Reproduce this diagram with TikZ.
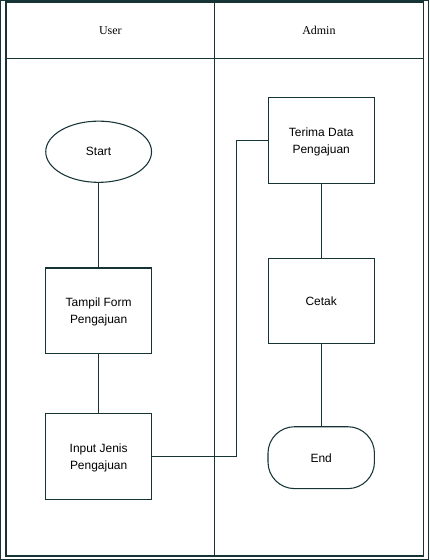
\documentclass[tikz,border=0pt]{standalone}
\usepackage{fontspec}
\setmainfont{Liberation Serif}
\newfontfamily\arialf{Liberation Sans}
\usetikzlibrary{shapes.geometric}
\definecolor{ln}{RGB}{22,52,54}
\begin{document}
\begin{tikzpicture}[x=0.75pt,y=-0.75pt,
  every path/.style={draw=ln,line width=0.8pt},
  txt/.style={align=center,font=\arialf\fontsize{9}{12.75}\selectfont,text depth=-1.2pt},
  proc/.style={txt,draw=ln,line width=0.8pt,rectangle,minimum width=79.5pt,minimum height=64.5pt,inner sep=0pt},
  term/.style={txt,draw=ln,line width=0.8pt,ellipse,minimum width=79.5pt,minimum height=46pt,inner sep=0pt},
  endt/.style={txt,draw=ln,line width=0.8pt,rectangle,rounded corners=20pt,minimum width=80pt,minimum height=46.5pt,inner sep=0pt},
  lanehead/.style={font=\fontsize{9}{11}\selectfont}]
\useasboundingbox (0,0) rectangle (429,560);
% swimlanes
\draw (5.5,1.5) rectangle (423.5,556.5);
\draw (5.5,58) -- (423.5,58);
\draw (214.5,1.5) -- (214.5,556.5);
\node[lanehead] (hu) at (110,30) {User};
\node[lanehead] (ha) at (319,30) {Admin};
% nodes
\node[term] (start) at (98.3,151.5) {Start};
\node[proc] (tampil) at (98.3,311) {Tampil Form\\Pengajuan};
\node[proc] (input) at (98.3,457) {Input Jenis\\Pengajuan};
\node[proc] (terima) at (321.3,140) {Terima Data\\Pengajuan};
\node[proc] (cetak) at (321.3,301) {Cetak};
\node[endt] (end) at (321.3,458) {End};
% connectors
\draw (start) -- (tampil);
\draw (tampil) -- (input);
\draw (input.east) -- (236.7,457) |- (terima.west);
\draw (terima) -- (cetak);
\draw (cetak) -- (end);
\end{tikzpicture}
\end{document}
